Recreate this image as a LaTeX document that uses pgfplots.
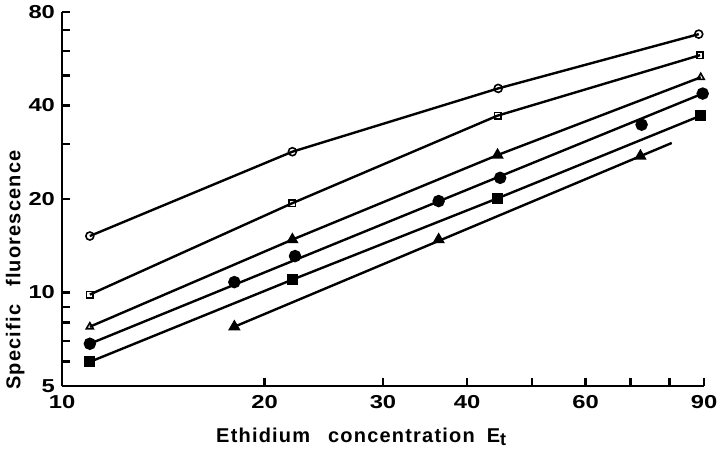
\documentclass[border=0pt]{standalone}
\usepackage{fontspec}
\setmainfont{Liberation Sans}
\usepackage{graphicx}
\usepackage{pgfplots}
\pgfplotsset{compat=1.18}
\newcommand\sq[1]{\scalebox{1.08}[0.85]{#1}}
\begin{document}
\begin{tikzpicture}
\begin{axis}[
  scale only axis, width=321pt, height=187pt,
  xmode=log, ymode=log,
  xmin=10, xmax=90, ymin=5, ymax=80,
  axis x line*=bottom, axis y line*=left,
  axis line style={line width=1.2pt, -},
  tick align=inside,
  major tick length=4pt,
  tick style={line width=1.1pt, black},
  xtick={10,20,30,40,50,60,70,80,90},
  xticklabels={\sq{10},\sq{20},\sq{30},\sq{40},,\sq{60},,,\sq{90}},
  ytick={5,6,7,8,9,10,20,30,40,50,60,70,80},
  yticklabels={\sq{5},,,,,\sq{10},\sq{20},,\sq{40},,,,\sq{80}},
  minor xtick={}, minor ytick={},
  tick label style={font=\bfseries\fontsize{11}{12}\selectfont},
  xticklabel style={yshift=-1pt},
  /pgf/number format/assume math mode=true,
  xlabel={Ethidium\hspace{0.9em}concentration\hspace{0.6em}E\raisebox{-0.3ex}{\fontsize{9}{10}\selectfont t}},
  ylabel={Specific\hspace{0.9em}fluorescence},
  label style={font=\bfseries\fontsize{10}{11}\selectfont\addfontfeature{LetterSpace=6}},
  xlabel style={at={(axis description cs:0.466,-0.136)}, anchor=center},
  ylabel style={at={(axis description cs:-0.073,0.31)}, anchor=center},
  clip=false,
  every axis plot/.append style={black, line width=1.2pt},
]
% open circles
\addplot[mark=o, mark size=2pt, mark options={fill=white, line width=0.8pt}]
  coordinates {(11,15.2)(22,28.4)(44.5,45.4)(88.4,67.9)};
% open squares
\addplot[mark=square, mark size=1.6pt, mark options={fill=white, line width=0.8pt}]
  coordinates {(11,9.85)(22,19.4)(44.4,37.1)(88.8,58.1)};
% triangles line (open at ends, filled in middle)
\addplot[mark=none] coordinates {(11,7.76)(22,14.8)(44.4,27.7)(89,49.3)};
\addplot[only marks, mark=triangle, mark size=2pt, mark options={fill=white, line width=0.8pt}]
  coordinates {(11,7.76)(89,49.3)};
\addplot[only marks, mark=triangle*, mark size=2.4pt]
  coordinates {(22,14.8)(44.4,27.7)};
% filled circles: straight line plus points
\addplot[mark=none] coordinates {(11,6.84)(89.6,43.7)};
\addplot[only marks, mark=*, mark size=2.5pt]
  coordinates {(11,6.84)(18.04,10.8)(22.2,13.1)(36.3,19.7)(44.8,23.4)(72.7,34.7)(89.6,43.7)};
% filled squares
\addplot[mark=square*, mark size=2.1pt]
  coordinates {(11,5.98)(22,11.0)(44.4,20.1)(89,37.1)};
% lowest filled triangles
\addplot[mark=none] coordinates {(18.04,7.76)(80.6,30.3)};
\addplot[only marks, mark=triangle*, mark size=2.4pt]
  coordinates {(18.04,7.76)(36.3,14.8)(72.4,27.5)};
\end{axis}
\pgfresetboundingbox
\path[use as bounding box] (-31pt,-33pt) rectangle (329pt,193pt);
\end{tikzpicture}
\end{document}
